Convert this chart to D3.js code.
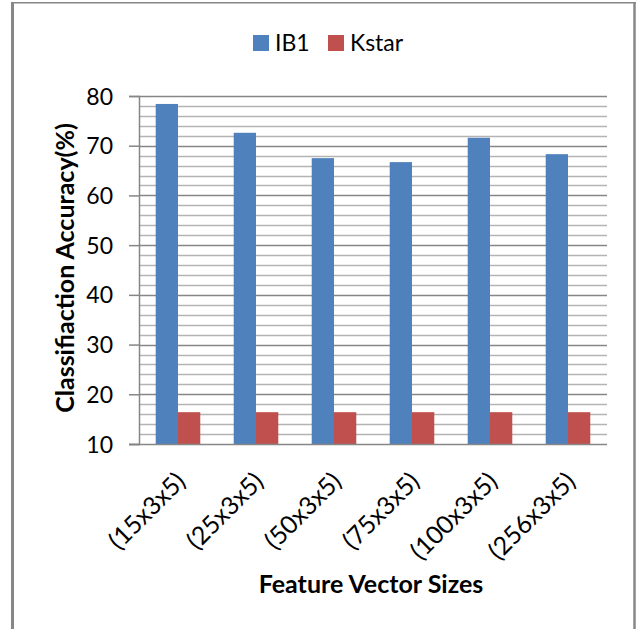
<!DOCTYPE html>
<html>
<head>
<meta charset="utf-8">
<script src="https://cdn.jsdelivr.net/npm/d3@7"></script>
<style>
  html, body { margin: 0; padding: 0; background: #fff; }
  svg { display: block; }
  text { font-family: Lato, "Open Sans", sans-serif; fill: #000; }
</style>
</head>
<body>
<svg id="chart" width="636" height="629"></svg>
<script>
const categories = ["(15x3x5)", "(25x3x5)", "(50x3x5)", "(75x3x5)", "(100x3x5)", "(256x3x5)"];
const seriesNames = ["IB1", "Kstar"];
const ib1Values = [78.4, 72.6, 67.5, 66.7, 71.6, 68.3];
const kstarValues = [16.4, 16.4, 16.4, 16.4, 16.4, 16.4];
const yTicks = [10, 20, 30, 40, 50, 60, 70, 80];
const colors = ["#4f81bd", "#c0504d"];

const svg = d3.select("#chart");

// outer frame (left thick, top thin, right medium)
svg.append("line").attr("x1", 12.5).attr("x2", 12.5).attr("y1", 2).attr("y2", 629)
  .attr("stroke", "#878787").attr("stroke-width", 3);
svg.append("line").attr("x1", 11).attr("x2", 636).attr("y1", 2.75).attr("y2", 2.75)
  .attr("stroke", "#878787").attr("stroke-width", 1.5);
svg.append("line").attr("x1", 634.5).attr("x2", 634.5).attr("y1", 2).attr("y2", 629)
  .attr("stroke", "#878787").attr("stroke-width", 2.5);

const pLeft = 139, pRight = 607, pTop = 96, pBottom = 444;

const x0 = d3.scaleBand().domain(categories).range([pLeft, pRight]).paddingInner(0).paddingOuter(0);
const y = d3.scaleLinear().domain([10, 80]).range([pBottom, pTop]);

// minor gridlines every 2
const minor = d3.range(12, 80, 2).filter(v => v % 10 !== 0);
svg.append("g").selectAll("line").data(minor).join("line")
  .attr("x1", pLeft).attr("x2", pRight)
  .attr("y1", d => Math.round(y(d)) + 0.5).attr("y2", d => Math.round(y(d)) + 0.5)
  .attr("stroke", "#b4b4b4").attr("stroke-width", 1.5);

// major gridlines
svg.append("g").selectAll("line").data(yTicks.filter(v => v > 10)).join("line")
  .attr("x1", pLeft).attr("x2", pRight)
  .attr("y1", d => Math.round(y(d)) + 0.5).attr("y2", d => Math.round(y(d)) + 0.5)
  .attr("stroke", "#868686").attr("stroke-width", 1.5);

// bars
const x1 = d3.scaleBand().domain(seriesNames).range([0, x0.bandwidth()]).paddingOuter(0.75).paddingInner(0);
const data = categories.map((c, i) => ({ c, vals: [ib1Values[i], kstarValues[i]] }));
const groups = svg.append("g").selectAll("g").data(data).join("g")
  .attr("transform", d => `translate(${x0(d.c)},0)`);
groups.selectAll("rect").data(d => d.vals.map((v, j) => ({ v, s: seriesNames[j], j }))).join("rect")
  .attr("x", d => x1(d.s)).attr("width", x1.bandwidth())
  .attr("y", d => y(d.v)).attr("height", d => y(10) - y(d.v))
  .attr("fill", d => colors[d.j]);

// y axis
const yAxis = d3.axisLeft(y).tickValues(yTicks).tickSize(10).tickPadding(16);
const ya = svg.append("g").attr("transform", `translate(${pLeft},0)`).call(yAxis);
ya.select(".domain").attr("stroke", "#868686").attr("stroke-width", 1.5);
ya.selectAll(".tick line").attr("stroke", "#868686").attr("stroke-width", 1.5);
ya.selectAll(".tick text").attr("font-size", 23).attr("font-family", "Lato").attr("fill", "#000").attr("dy", "0.35em");

// x axis
const xAxis = d3.axisBottom(x0).tickSize(0).tickPadding(0);
const xa = svg.append("g").attr("transform", `translate(0,${pBottom})`).call(xAxis);
xa.select(".domain").attr("stroke", "#868686").attr("stroke-width", 1.5)
  .attr("d", `M${pLeft - 10},0.5H${pRight}`);
xa.selectAll(".tick text")
  .attr("font-size", 25).attr("font-family", "Lato").attr("fill", "#000")
  .attr("text-anchor", "end").attr("dy", 0).attr("y", 0)
  .attr("transform", "translate(9,39) rotate(-45)");

// axis titles
svg.append("text").attr("x", 371).attr("y", 593).attr("text-anchor", "middle")
  .attr("font-size", 25).attr("font-weight", "bold").text("Feature Vector Sizes");
svg.append("text").attr("transform", "translate(74,268) rotate(-90)").attr("text-anchor", "middle")
  .attr("font-size", 25).attr("font-weight", "bold").text("Classifiaction Accuracy(%)");

// legend
const legendPos = [253, 328];
const lg = svg.append("g").selectAll("g").data(seriesNames).join("g")
  .attr("transform", (d, i) => `translate(${legendPos[i]},35)`);
lg.append("rect").attr("width", 16).attr("height", 16).attr("fill", (d, i) => colors[i]);
lg.append("text").attr("x", 22).attr("y", 16).attr("font-size", 23).text(d => d);
</script>
</body>
</html>
